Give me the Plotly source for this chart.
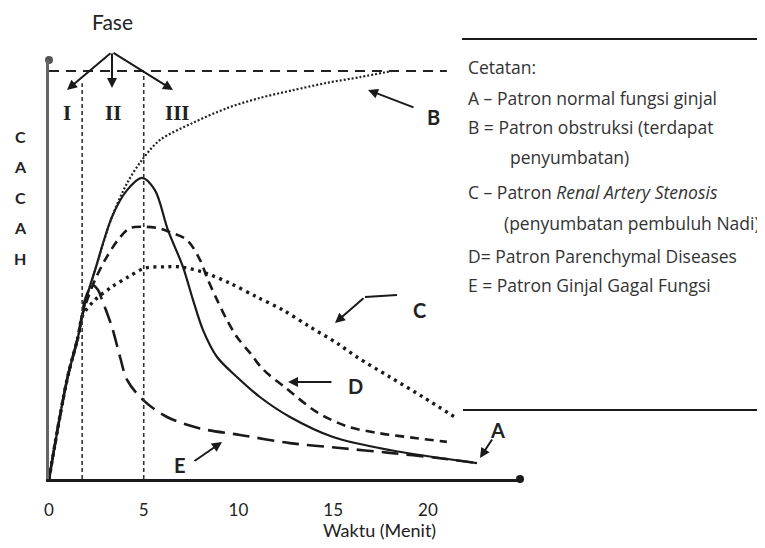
import plotly.graph_objects as go

# ---------------- data (time in minutes, count in relative units; 100 = plateau line) -------------
t_A = [0, 0.95, 1.53, 1.90, 2.43, 3.32, 4.12, 4.91, 5.59, 6.28, 7.07, 7.60, 8.13, 8.87, 9.92, 11.13, 12.72, 14.99, 17.99, 22.59]
y_A = [0, 24.3, 34.8, 43.1, 51.2, 64.2, 70.8, 73.8, 70.8, 61.0, 52.0, 43.9, 36.5, 29.9, 25.0, 20.1, 15.2, 10.3, 7.1, 3.9]

t_B = [0, 0.95, 1.53, 1.90, 2.43, 3.32, 4.12, 4.91, 5.86, 7.60, 9.39, 11.13, 12.88, 14.67, 16.41, 18.10]
y_B = [0, 24.3, 34.8, 43.1, 51.2, 64.2, 72.5, 78.2, 83.1, 87.3, 90.9, 93.4, 95.3, 97.1, 98.5, 100.0]

t_C = [0, 0.95, 1.53, 1.79, 2.43, 3.32, 4.17, 5.07, 6.12, 6.91, 8.13, 9.55, 10.98, 12.35, 13.77, 15.20, 16.25, 17.99, 19.74, 21.58]
y_C = [0, 24.3, 34.8, 40.2, 43.9, 47.1, 49.5, 51.7, 52.0, 52.0, 50.7, 48.0, 44.6, 41.4, 37.3, 33.3, 29.9, 25.0, 20.1, 14.7]

t_D = [0, 0.95, 1.53, 1.79, 2.43, 2.96, 3.64, 4.27, 5.07, 5.75, 6.39, 7.28, 7.97, 8.39, 8.87, 9.39, 9.92, 10.61, 11.29, 12.50, 14.14, 15.73, 17.47, 19.42, 21.00]
y_D = [0, 24.3, 34.8, 40.7, 48.8, 53.7, 58.6, 61.5, 61.8, 61.5, 60.5, 58.6, 53.7, 48.8, 43.9, 39.0, 34.8, 30.9, 26.9, 22.3, 16.4, 12.9, 11.2, 10.0, 9.1]

t_E = [0, 0.95, 1.53, 1.90, 2.16, 2.32, 2.59, 2.80, 3.32, 3.75, 4.12, 4.96, 6.23, 7.97, 10.08, 12.72, 15.36, 17.99, 20.63, 22.59]
y_E = [0, 24.3, 34.8, 43.9, 46.8, 47.5, 46.3, 43.9, 37.3, 29.9, 24.3, 19.4, 15.2, 12.4, 10.8, 8.8, 7.6, 6.4, 5.1, 3.9]

x_ticks = [0, 5, 10, 15, 20]
x_tick_labels = ["0", "5", "10", "15", "20"]
x_title = "Waktu (Menit)"
phase_bounds = [1.75, 5.0]
phase_tops = [97.0, 100.0]
plateau_level = 100.0
plateau_end = 21.0
phase_labels = ["I", "II", "III"]
y_letters = ["C", "A", "C", "A", "H"]
notes = ["Cetatan:",
         "A – Patron normal fungsi ginjal",
         "B = Patron obstruksi (terdapat",
         "penyumbatan)",
         "C – Patron <i>Renal Artery Stenosis</i>",
         "(penyumbatan pembuluh Nadi)",
         "D= Patron Parenchymal Diseases",
         "E = Patron Ginjal Gagal Fungsi"]

# ---------------- layout geometry (window pixels; page body has an 8px margin) -------------
W, H = 765, 548
BODY = 8
PL, PR, PT, PB = 49, 520, 60, 479       # plot box in window pixels
X_MAX = 24.86
Y_MAX = 102.7


def paper(px, py):
    return (px - PL) / (PR - PL), (PB - py) / (PB - PT)


INK = "#1a1a1a"
FONT = "Lato"
NOTE_FONT = "Open Sans"

fig = go.Figure()

curves = [
    (t_A, y_A, dict(color=INK, width=2.2, dash="solid")),
    (t_B, y_B, dict(color="#222", width=2.2, dash="2px,2px")),
    (t_C, y_C, dict(color=INK, width=3.4, dash="3px,4.5px")),
    (t_D, y_D, dict(color=INK, width=2.6, dash="9px,6px")),
    (t_E, y_E, dict(color=INK, width=2.6, dash="17px,8px")),
]
for tx, ty, ln in curves:
    fig.add_trace(go.Scatter(x=tx, y=ty, mode="lines", line=dict(shape="spline", smoothing=0.9, **ln),
                             showlegend=False, hoverinfo="skip"))

# axis end dots
fig.add_trace(go.Scatter(x=[0, X_MAX], y=[Y_MAX, 0], mode="markers", cliponaxis=False,
                         marker=dict(size=8, color=["#555", INK]), showlegend=False, hoverinfo="skip"))

shapes = []
shapes.append(dict(type="line", xref="x", yref="y", x0=0, x1=plateau_end, y0=plateau_level, y1=plateau_level,
                   line=dict(color="#222", width=2, dash="10px,7px")))
for xb, top in zip(phase_bounds, phase_tops):
    shapes.append(dict(type="line", xref="x", yref="y", x0=xb, x1=xb, y0=0, y1=top,
                       line=dict(color="#333", width=1.6, dash="4px,3px")))
for (xa, ya, xb2, yb) in [(462, 39, 770, 39), (463, 410, 770, 410)]:
    p0 = paper(xa, ya); p1 = paper(xb2, yb)
    shapes.append(dict(type="line", xref="paper", yref="paper", x0=p0[0], y0=p0[1], x1=p1[0], y1=p1[1],
                       line=dict(color=INK, width=2)))
p0 = paper(365, 297); p1 = paper(397, 295)
shapes.append(dict(type="line", xref="paper", yref="paper", x0=p0[0], y0=p0[1], x1=p1[0], y1=p1[1],
                   line=dict(color=INK, width=2.2)))

ann = []


def text(px, py, s, size, family=FONT, bold=False, anchor="center", color="#222"):
    x, y = paper(px, py)
    ann.append(dict(xref="paper", yref="paper", x=x, y=y, text=(f"<b>{s}</b>" if bold else s),
                    showarrow=False, xanchor=anchor, yanchor="middle",
                    font=dict(family=family, size=size, color=color)))


def arrow(hx, hy, tx, ty, width=2, head=2):
    x, y = paper(hx, hy)
    ann.append(dict(xref="paper", yref="paper", x=x, y=y, text="", showarrow=True,
                    ax=tx - hx, ay=ty - hy, axref="pixel", ayref="pixel",
                    arrowhead=head, arrowsize=1, arrowwidth=width, arrowcolor=INK))


text(112, 22, "Fase", 21)
for lbl, px in zip(phase_labels, [67, 113, 177]):
    text(px, 113, lbl, 21, family="Liberation Serif", bold=True)
for hx, hy in [(67, 90), (112, 88), (173, 90)]:
    arrow(hx, hy, 112, 52)

for i, ch in enumerate(y_letters):
    text(20, 136 + 30.5 * i, ch, 16, bold=True)

text(433, 117, "B", 20, bold=True)
arrow(368, 90, 415, 108)
text(419, 310, "C", 20, bold=True)
arrow(335, 323, 365, 297)
text(355, 386, "D", 20, bold=True)
arrow(288, 382, 333, 382)
text(497, 430, "A", 20, bold=True)
arrow(480, 458, 493, 438)
text(180, 465, "E", 20, bold=True)
arrow(222, 442, 193, 462)

# x-axis title (sits right of centre in the original)
text(379, 530, x_title, 18)

note_x = [466, 466, 466, 508, 466, 502, 466, 466]
note_y = [67, 98, 127, 157, 192, 223, 256, 285]
for s, nx, ny in zip(notes, note_x, note_y):
    text(nx, ny, s, 17.5, family=NOTE_FONT, anchor="left", color="#333")

fig.update_layout(
    width=W - BODY, height=H - BODY, autosize=False,
    margin=dict(l=PL - BODY, r=W - PR, t=PT - BODY, b=H - PB, pad=0),
    paper_bgcolor="white", plot_bgcolor="white",
    shapes=shapes, annotations=ann, showlegend=False,
    xaxis=dict(range=[0, X_MAX], showline=True, linecolor=INK, linewidth=3, showgrid=False, zeroline=False,
               tickvals=x_ticks, ticktext=x_tick_labels, ticks="", ticklabelstandoff=14,
               tickfont=dict(family=FONT, size=17, color="#222")),
    yaxis=dict(range=[0, Y_MAX], showline=True, linecolor="#666", linewidth=3, showgrid=False, zeroline=False,
               showticklabels=False, ticks=""),
)

fig.write_html("out.html")
